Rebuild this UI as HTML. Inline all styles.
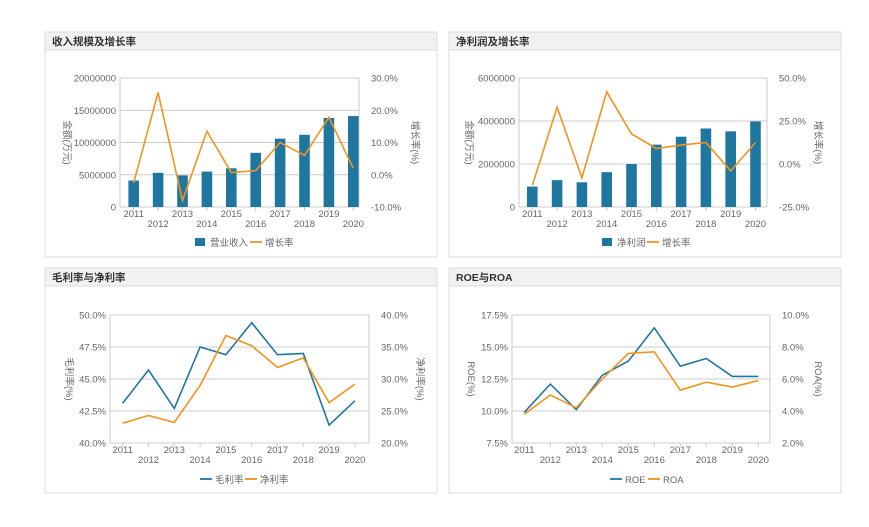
<!DOCTYPE html>
<html><head><meta charset="utf-8"><style>
html,body{margin:0;padding:0;background:#fff;}
svg{display:block;font-family:"Liberation Sans","Noto Sans CJK SC",sans-serif;}
</style></head><body>
<svg id="s" width="869" height="527" xmlns="http://www.w3.org/2000/svg"></svg>
<script>
const B='#1f77a0',O='#f0941d',G='#666';
let h='';
function panel(x,y,w,hh,title){
 h+=`<rect x="${x}" y="${y}" width="${w}" height="${hh}" fill="#fff" stroke="#dcdcdc"/>`;
 h+=`<rect x="${x+0.5}" y="${y+0.5}" width="${w-1}" height="17" fill="#f1f1f1"/>`;
 h+=`<line x1="${x}" y1="${y+18}" x2="${x+w}" y2="${y+18}" stroke="#dcdcdc"/>`;
 h+=`<text x="${x+7}" y="${y+13}" font-size="10.5" font-weight="bold" fill="#333">${title}</text>`;
}
function chart(o){
 const {x0,x1,yt,yb,c0,step,lt,rt,ltitle,rtitle,lx,rx}=o;
 h+=`<rect x="${x0}" y="${yt}" width="${x1-x0}" height="${yb-yt}" fill="none" stroke="#ccc"/>`;
 const n=lt.length;
 for(let i=0;i<n;i++){const y=yb-(yb-yt)*i/(n-1);
  if(i>0&&i<n-1)h+=`<line x1="${x0}" y1="${y}" x2="${x1}" y2="${y}" stroke="#ccc"/>`;
  h+=`<text x="${x0-4}" y="${y+3.5}" font-size="9.5" fill="${G}" text-anchor="end">${lt[i]}</text>`;
  h+=`<text x="${x1+12}" y="${y+3.5}" font-size="9.5" fill="${G}">${rt[i]}</text>`;}
 for(let i=0;i<10;i++){const cx=c0+step*i;
  h+=`<line x1="${cx}" y1="${yb}" x2="${cx}" y2="${yb+4}" stroke="#ccc"/>`;
  h+=`<text x="${cx}" y="${yb+(i%2?19:9)+1}" font-size="9.5" fill="${G}" text-anchor="middle">${2011+i}</text>`;}
 const my=(yt+yb)/2;
 h+=`<text transform="translate(${lx},${my}) rotate(90)" font-size="9.5" fill="${G}" text-anchor="middle">${ltitle}</text>`;
 h+=`<text transform="translate(${rx},${my}) rotate(90)" font-size="9.5" fill="${G}" text-anchor="middle">${rtitle}</text>`;
}
function bars(c0,step,yb,yt,max,vals){vals.forEach((v,i)=>{const bh=(yb-yt)*v/max;h+=`<rect x="${c0+step*i-5.3}" y="${yb-bh}" width="10.6" height="${bh}" fill="${B}"/>`;});}
function line(c0,step,yb,yt,mn,mx,vals,col){const p=vals.map((v,i)=>`${(c0+step*i).toFixed(1)},${(yb-(yb-yt)*(v-mn)/(mx-mn)).toFixed(1)}`).join(' ');h+=`<polyline points="${p}" fill="none" stroke="${col}" stroke-width="1.6"/>`;}
function legend(cx,y,items){let x=cx;items.forEach(it=>{
 if(it.bar)h+=`<rect x="${x}" y="${y-5}" width="10" height="8" fill="${B}"/>`;else h+=`<line x1="${x}" y1="${y-1}" x2="${x+12}" y2="${y-1}" stroke="${it.c}" stroke-width="1.8"/>`;
 h+=`<text x="${x+15}" y="${y+3}" font-size="9.5" fill="${G}">${it.t}</text>`;x+=it.w;});}
panel(45,32,392,225,'收入规模及增长率');
panel(449,32,392,225,'净利润及增长率');
panel(45,268,392,225,'毛利率与净利率');
panel(449,268,392,225,'ROE与ROA');
// P1
chart({x0:120,x1:359,yt:78,yb:207,c0:133.7,step:24.4,lt:['0','5000000','10000000','15000000','20000000'],rt:['-10.0%','0.0%','10.0%','20.0%','30.0%'],ltitle:'金额(万元)',rtitle:'增长率(%)',lx:64,rx:412});
bars(133.7,24.4,207,78,20,[4.1,5.3,4.9,5.5,6.0,8.4,10.6,11.2,13.8,14.1]);
line(133.7,24.4,207,78,-10,30,[-2.5,25.5,-8,13.5,0.7,1.3,10,6,17.8,2],O);
legend(195,243,[{bar:1,t:'营业收入',w:55},{c:O,t:'增长率',w:50}]);
// P2
chart({x0:519,x1:767,yt:78,yb:207,c0:532.3,step:24.8,lt:['0','2000000','4000000','6000000'],rt:['-25.0%','0.0%','25.0%','50.0%'],ltitle:'金额(万元)',rtitle:'增长率(%)',lx:466,rx:815});
bars(532.3,24.8,207,78,6,[0.95,1.25,1.15,1.62,2.0,2.9,3.27,3.65,3.52,3.98]);
line(532.3,24.8,207,78,-25,50,[-12.5,33,-8,42,17.5,9,11,12.5,-4,12.5],O);
legend(602,243,[{bar:1,t:'净利润',w:45},{c:O,t:'增长率',w:50}]);
// P3
chart({x0:110,x1:369,yt:315,yb:443,c0:122.7,step:25.8,lt:['40.0%','42.5%','45.0%','47.5%','50.0%'],rt:['20.0%','25.0%','30.0%','35.0%','40.0%'],ltitle:'毛利率(%)',rtitle:'净利率(%)',lx:66,rx:417});
line(122.7,25.8,443,315,40,50,[43.1,45.7,42.7,47.5,46.9,49.4,46.9,47.0,41.4,43.3],B);
line(122.7,25.8,443,315,20,40,[23.1,24.3,23.2,29,36.8,35.2,31.8,33.3,26.3,29.2],O);
legend(200,480,[{c:B,t:'毛利率',w:45},{c:O,t:'净利率',w:50}]);
// P4
chart({x0:512,x1:770,yt:315,yb:443,c0:524.3,step:26,lt:['7.5%','10.0%','12.5%','15.0%','17.5%'],rt:['2.0%','4.0%','6.0%','8.0%','10.0%'],ltitle:'ROE(%)',rtitle:'ROA(%)',lx:468,rx:815});
line(524.3,26,443,315,7.5,17.5,[9.9,12.1,10.1,12.8,13.9,16.5,13.5,14.1,12.7,12.7],B);
line(524.3,26,443,315,2,10,[3.8,5.0,4.2,6.0,7.6,7.7,5.3,5.8,5.5,5.9],O);
legend(610,480,[{c:B,t:'ROE',w:38},{c:O,t:'ROA',w:40}]);
document.getElementById('s').innerHTML=h;
</script>
</body></html>
